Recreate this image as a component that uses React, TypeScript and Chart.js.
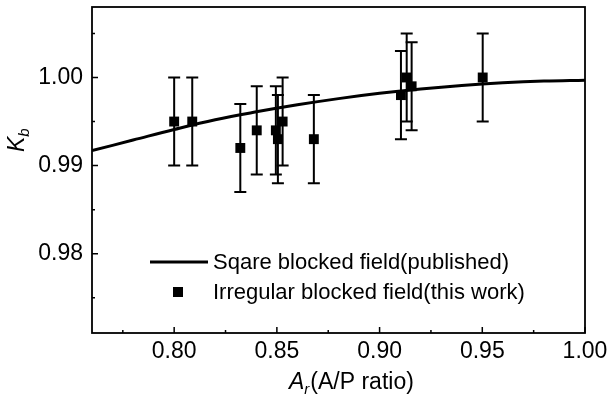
import React, { useEffect, useRef } from 'react';
import { Chart, registerables } from 'chart.js';
Chart.register(...registerables);

// Published curve (square blocked field)
const curveX = [0.76, 0.78, 0.80, 0.82, 0.84, 0.86, 0.88, 0.90, 0.92, 0.94, 0.96, 0.98, 1.00];
const curveY = [0.9917, 0.9929, 0.9941, 0.9952, 0.9961, 0.9969, 0.9976, 0.9982, 0.9987, 0.9991, 0.9994, 0.9996, 0.9997];

// Measured points (irregular blocked field)
const ptX = [0.800, 0.8088, 0.8322, 0.8402, 0.8495, 0.8505, 0.8528, 0.8680, 0.9104, 0.9132, 0.9156, 0.9502];
const ptY = [0.995, 0.995, 0.992, 0.994, 0.994, 0.993, 0.995, 0.993, 0.998, 1.000, 0.999, 1.000];
const ptErr = [0.005, 0.005, 0.005, 0.005, 0.005, 0.005, 0.005, 0.005, 0.005, 0.005, 0.005, 0.005];

const xTicks = [0.80, 0.85, 0.90, 0.95, 1.00];
const xMinor = [0.775, 0.825, 0.875, 0.925, 0.975];
const yTicks = [0.98, 0.99, 1.00];
const yMinor = [0.975, 0.985, 0.995, 1.005];

const legendLabels = ['Sqare blocked field(published)', 'Irregular blocked field(this work)'];

const FONT = '"Liberation Sans", Arial, sans-serif';

const decorPlugin = {
  id: 'decor',
  beforeDatasetsDraw(chart: any) {
    const { ctx, scales } = chart;
    const xs = scales.x, ys = scales.y;
    ctx.save();
    ctx.strokeStyle = '#000';
    ctx.lineWidth = 2;
    for (let i = 0; i < ptX.length; i++) {
      const px = xs.getPixelForValue(ptX[i]);
      const top = ys.getPixelForValue(ptY[i] + ptErr[i]);
      const bot = ys.getPixelForValue(ptY[i] - ptErr[i]);
      ctx.beginPath();
      ctx.moveTo(px, top);
      ctx.lineTo(px, bot);
      ctx.moveTo(px - 6, top);
      ctx.lineTo(px + 6, top);
      ctx.moveTo(px - 6, bot);
      ctx.lineTo(px + 6, bot);
      ctx.stroke();
    }
    ctx.restore();
  },
  afterDraw(chart: any) {
    const { ctx, scales, chartArea: a } = chart;
    const xs = scales.x, ys = scales.y;
    ctx.save();
    ctx.strokeStyle = '#000';
    // frame
    ctx.lineWidth = 1.8;
    ctx.strokeRect(a.left, a.top, a.right - a.left, a.bottom - a.top);
    // inward ticks
    ctx.lineWidth = 1.5;
    ctx.beginPath();
    for (const v of xTicks) {
      const p = xs.getPixelForValue(v);
      ctx.moveTo(p, a.bottom); ctx.lineTo(p, a.bottom - 6);
    }
    for (const v of xMinor) {
      const p = xs.getPixelForValue(v);
      ctx.moveTo(p, a.bottom); ctx.lineTo(p, a.bottom - 3);
    }
    for (const v of yTicks) {
      const p = ys.getPixelForValue(v);
      ctx.moveTo(a.left, p); ctx.lineTo(a.left + 6, p);
    }
    for (const v of yMinor) {
      const p = ys.getPixelForValue(v);
      ctx.moveTo(a.left, p); ctx.lineTo(a.left + 3, p);
    }
    ctx.stroke();

    // legend
    ctx.fillStyle = '#000';
    ctx.lineWidth = 3;
    ctx.beginPath();
    ctx.moveTo(150, 262); ctx.lineTo(208, 262);
    ctx.stroke();
    ctx.fillRect(178 - 5, 292 - 5, 10, 10);
    ctx.font = `22px ${FONT}`;
    ctx.textAlign = 'left';
    ctx.textBaseline = 'middle';
    ctx.fillText(legendLabels[0], 213, 263);
    ctx.fillText(legendLabels[1], 213, 293);

    // x title
    ctx.textBaseline = 'alphabetic';
    let x = 289;
    const by = 389;
    ctx.font = `italic 23px ${FONT}`;
    ctx.fillText('A', x, by);
    x += ctx.measureText('A').width;
    ctx.font = `italic 15px ${FONT}`;
    ctx.fillText('r', x, by + 5);
    x += ctx.measureText('r').width + 1;
    ctx.font = `23px ${FONT}`;
    ctx.fillText('(A/P ratio)', x, by);

    // y title
    ctx.translate(24, 152);
    ctx.rotate(-Math.PI / 2);
    ctx.font = `italic 23px ${FONT}`;
    ctx.fillText('K', 0, 0);
    const kw = ctx.measureText('K').width;
    ctx.font = `italic 15px ${FONT}`;
    ctx.fillText('b', kw, 5);
    ctx.restore();
  },
};

export default function App() {
  const ref = useRef<HTMLCanvasElement | null>(null);
  useEffect(() => {
    if (!ref.current) return;
    const chart = new Chart(ref.current, {
      type: 'scatter',
      data: {
        datasets: [
          {
            type: 'line',
            label: legendLabels[0],
            data: curveX.map((x, i) => ({ x, y: curveY[i] })),
            borderColor: '#000',
            borderWidth: 3,
            pointRadius: 0,
            tension: 0.4,
            fill: false,
          } as any,
          {
            type: 'scatter',
            label: legendLabels[1],
            data: ptX.map((x, i) => ({ x, y: ptY[i] })),
            backgroundColor: '#000',
            borderColor: '#000',
            pointStyle: 'rect',
            pointRadius: 7,
            borderWidth: 0,
          },
        ],
      },
      options: {
        responsive: false,
        animation: false,
        layout: { padding: { top: 6, right: 24, left: 0, bottom: 0 } },
        plugins: { legend: { display: false }, tooltip: { enabled: false } },
        scales: {
          x: {
            type: 'linear',
            min: 0.76,
            max: 1.0,
            afterFit: (s: any) => { s.height = 68; s.paddingLeft = 0; s.paddingRight = 0; },
            afterBuildTicks: (s: any) => { s.ticks = xTicks.map((v) => ({ value: v })); },
            grid: { display: false, drawTicks: false },
            border: { display: false },
            ticks: {
              color: '#000',
              padding: 5,
              font: { family: FONT, size: 23 },
              callback: (v: any) => Number(v).toFixed(2),
            },
          },
          y: {
            type: 'linear',
            min: 0.971,
            max: 1.008,
            afterFit: (s: any) => { s.width = 92; s.paddingTop = 0; s.paddingBottom = 0; },
            afterBuildTicks: (s: any) => { s.ticks = yTicks.map((v) => ({ value: v })); },
            grid: { display: false, drawTicks: false },
            border: { display: false },
            ticks: {
              color: '#000',
              padding: 9,
              font: { family: FONT, size: 23 },
              callback: (v: any) => Number(v).toFixed(2),
            },
          },
        },
      },
      plugins: [decorPlugin],
    });
    return () => chart.destroy();
  }, []);
  return (
    <div style={{ position: 'absolute', left: 0, top: 0, width: 609, height: 401, background: '#fff' }}>
      <canvas ref={ref} width={609} height={401} />
    </div>
  );
}
